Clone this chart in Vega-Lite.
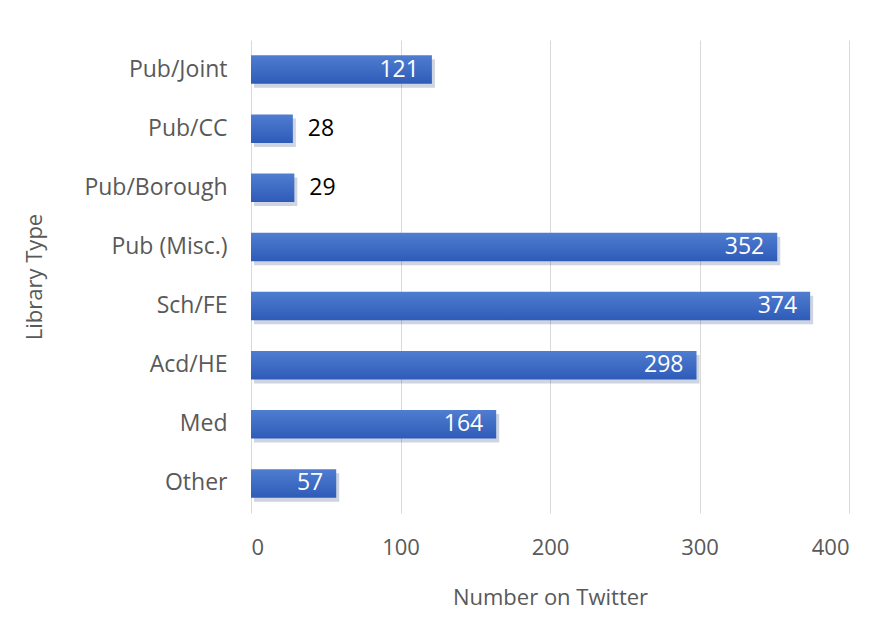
{
  "$schema": "https://vega.github.io/schema/vega-lite/v6.json",
  "autosize": "none",
  "width": 598,
  "height": 473,
  "padding": {"left": 251, "top": 40, "right": 42, "bottom": 123},
  "background": "white",
  "config": {
    "view": {"stroke": null},
    "font": "Open Sans",
    "axis": {"labelFont": "Open Sans", "titleFont": "Open Sans", "labelColor": "#595959", "titleColor": "#595959", "titleFontWeight": "normal"}
  },
  "data": {"values": [
    {"type": "Pub/Joint", "n": 121},
    {"type": "Pub/CC", "n": 28},
    {"type": "Pub/Borough", "n": 29},
    {"type": "Pub (Misc.)", "n": 352},
    {"type": "Sch/FE", "n": 374},
    {"type": "Acd/HE", "n": 298},
    {"type": "Med", "n": 164},
    {"type": "Other", "n": 57}
  ]},
  "encoding": {
    "y": {"field": "type", "type": "nominal", "sort": null,
      "scale": {"paddingInner": 0.52, "paddingOuter": 0.26},
      "axis": {"title": "Library Type", "titleFontSize": 22, "titlePadding": 37, "labelFontSize": 23, "labelPadding": 24, "ticks": false, "domain": false}},
    "x": {"field": "n", "type": "quantitative",
      "scale": {"domain": [0, 400]},
      "axis": {"title": "Number on Twitter", "values": [0, 100, 200, 300, 400], "grid": true, "gridColor": "#D9D9D9", "gridWidth": 1, "ticks": false, "domain": false, "labelFontSize": 22, "labelPadding": 24, "titleFontSize": 22, "titlePadding": 29}}
  },
  "layer": [
    {"mark": {"type": "bar", "color": "#1F3A73", "opacity": 0.22, "xOffset": 3, "yOffset": 4}},
    {"mark": {"type": "bar", "color": {"gradient": "linear", "x1": 0, "y1": 0, "x2": 0, "y2": 1, "stops": [{"offset": 0, "color": "#4F7DD0"}, {"offset": 0.5, "color": "#3F6CC4"}, {"offset": 1, "color": "#2E5BB8"}]}}},
    {"transform": [{"filter": "datum.n > 50"}],
      "mark": {"type": "text", "align": "right", "dx": -13, "fontSize": 23, "color": "white", "baseline": "middle"},
      "encoding": {"text": {"field": "n", "type": "quantitative"}}},
    {"transform": [{"filter": "datum.n <= 50"}],
      "mark": {"type": "text", "align": "left", "dx": 15, "fontSize": 23, "color": "black", "baseline": "middle"},
      "encoding": {"text": {"field": "n", "type": "quantitative"}}}
  ]
}
